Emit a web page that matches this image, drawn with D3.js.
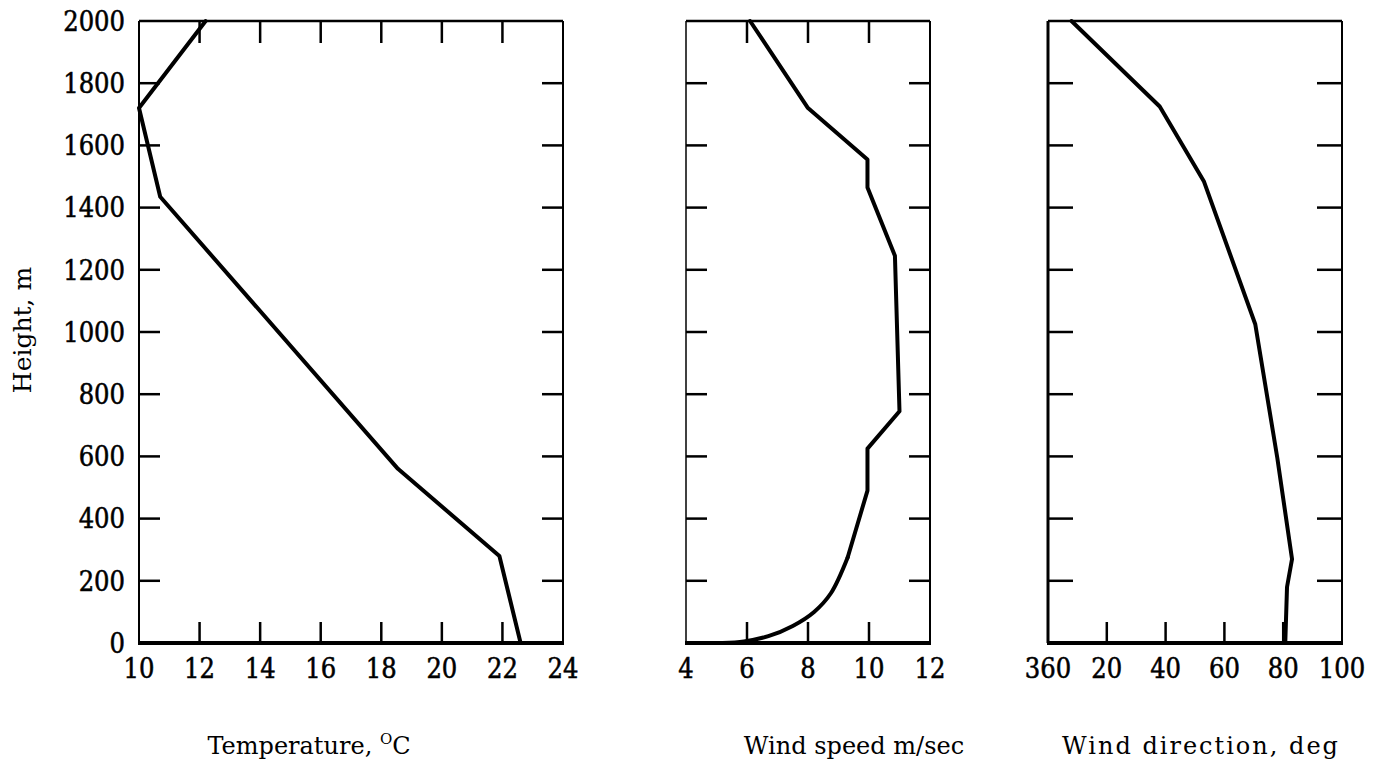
<!DOCTYPE html>
<html>
<head>
<meta charset="utf-8">
<script src="https://cdn.jsdelivr.net/npm/d3@7"></script>
<style>
  html, body { margin: 0; padding: 0; background: #fff; }
  svg { display: block; }
</style>
</head>
<body>
<svg id="chart" width="1375" height="774"></svg>
<script>
// ---------- data ----------
const heightTicks = [0, 200, 400, 600, 800, 1000, 1200, 1400, 1600, 1800, 2000];

const tempHeight = [2000, 1720, 1435, 560, 280, 0];
const tempValue  = [12.2, 10.0, 10.7, 18.55, 21.9, 22.6];
const tempTicks  = [10, 12, 14, 16, 18, 20, 22, 24];

// upper (straight segments) and lower (smooth curve) parts of the wind-speed profile
const speedHeightUpper = [2000, 1720, 1555, 1465, 1245, 745, 625, 490, 275];
const speedValueUpper  = [6.1, 8.0, 9.95, 9.95, 10.85, 11.0, 9.95, 9.95, 9.3];
const speedHeightLower = [275, 160, 100, 55, 22, 5, 0];
const speedValueLower  = [9.3, 8.75, 8.2, 7.5, 6.7, 5.9, 5.2];
const speedTicks  = [4, 6, 8, 10, 12];

const dirHeight = [2000, 1725, 1485, 1025, 595, 270, 180, 0];
const dirValue  = [8, 38, 53, 70.5, 78, 83, 81.3, 80.7];
const dirTicks  = [0, 20, 40, 60, 80, 100];
const dirTickLabels = ["360", "20", "40", "60", "80", "100"];

const titles = ["Temperature, ", "Wind speed m/sec", "Wind direction, deg"];

// ---------- layout ----------
const svg = d3.select("#chart");
const plotTop = 21, plotBottom = 643;
const y = d3.scaleLinear().domain([0, 2000]).range([plotBottom, plotTop]);
const tickFont = "'DejaVu Serif Condensed', 'DejaVu Serif', serif";
const titleFont = "'DejaVu Serif', serif";

const panels = [
  { x0: 139, x1: 563, domain: [10, 24], ticks: tempTicks, labels: tempTicks.map(String),
    lines: [[tempHeight, tempValue, d3.curveLinear]], topTicks: true, tl: 21, leftW: 2, title: titles[0], tx: 309, ls: 0 },
  { x0: 686, x1: 930, domain: [4, 12], ticks: speedTicks, labels: speedTicks.map(String),
    lines: [[speedHeightUpper, speedValueUpper, d3.curveLinear], [speedHeightLower, speedValueLower, d3.curveCatmullRom]],
    topTicks: true, tl: 21, leftW: 1.5, title: titles[1], tx: 854, ls: 0 },
  { x0: 1048, x1: 1342, domain: [0, 100], ticks: dirTicks, labels: dirTickLabels,
    lines: [[dirHeight, dirValue, d3.curveLinear]], topTicks: false, tl: 25, leftW: 3, title: titles[2], tx: 1201, ls: 2 }
];

panels.forEach((p, i) => {
  const x = d3.scaleLinear().domain(p.domain).range([p.x0, p.x1]);
  const g = svg.append("g");
  const inner = p.ticks.slice(1, -1);
  const innerH = heightTicks.slice(1, -1);

  // frame
  g.append("line").attr("x1", x(p.domain[0])).attr("x2", x(p.domain[1]))
    .attr("y1", y(2000)).attr("y2", y(2000)).attr("stroke", "#000").attr("stroke-width", 2.5);
  g.append("line").attr("x1", x(p.domain[0]) - 1).attr("x2", x(p.domain[1]) + 1)
    .attr("y1", y(0)).attr("y2", y(0)).attr("stroke", "#000").attr("stroke-width", 4);
  g.append("line").attr("x1", x(p.domain[0])).attr("x2", x(p.domain[0]))
    .attr("y1", y(2000)).attr("y2", y(0)).attr("stroke", "#000").attr("stroke-width", p.leftW);
  g.append("line").attr("x1", x(p.domain[1])).attr("x2", x(p.domain[1]))
    .attr("y1", y(2000)).attr("y2", y(0)).attr("stroke", "#000").attr("stroke-width", 2);

  // bottom ticks (inward)
  g.selectAll(".bt").data(inner).enter().append("line")
    .attr("x1", d => x(d)).attr("x2", d => x(d))
    .attr("y1", y(0)).attr("y2", y(0) - 21)
    .attr("stroke", "#000").attr("stroke-width", 2.5);
  // top ticks
  if (p.topTicks) {
    g.selectAll(".tt").data(inner).enter().append("line")
      .attr("x1", d => x(d)).attr("x2", d => x(d))
      .attr("y1", y(2000)).attr("y2", y(2000) + 22)
      .attr("stroke", "#000").attr("stroke-width", 2.5);
  }
  // left / right ticks
  g.selectAll(".lt").data(innerH).enter().append("line")
    .attr("x1", x(p.domain[0])).attr("x2", x(p.domain[0]) + p.tl)
    .attr("y1", d => y(d)).attr("y2", d => y(d))
    .attr("stroke", "#000").attr("stroke-width", 2.5);
  g.selectAll(".rt").data(innerH).enter().append("line")
    .attr("x1", x(p.domain[1])).attr("x2", x(p.domain[1]) - p.tl)
    .attr("y1", d => y(d)).attr("y2", d => y(d))
    .attr("stroke", "#000").attr("stroke-width", 2.5);

  // x tick labels
  g.selectAll(".xl").data(p.ticks).enter().append("text")
    .attr("font-family", tickFont).attr("font-size", 27)
    .attr("fill", "#000").attr("stroke", "#000").attr("stroke-width", 0.5)
    .attr("x", d => x(d)).attr("y", 678)
    .attr("text-anchor", "middle")
    .text((d, j) => p.labels[j]);

  // data lines
  p.lines.forEach(([hv, vv, curve]) => {
    const pts = hv.map((h, j) => [vv[j], h]);
    g.append("path").datum(pts)
      .attr("d", d3.line().curve(curve).x(d => x(d[0])).y(d => y(d[1])))
      .attr("fill", "none").attr("stroke", "#000").attr("stroke-width", 4)
      .attr("stroke-linejoin", "round").attr("stroke-linecap", "round");
  });

  // title
  const t = g.append("text")
    .attr("font-family", titleFont).attr("font-size", 24).attr("fill", "#000")
    .attr("letter-spacing", p.ls)
    .attr("x", p.tx).attr("y", 754).attr("text-anchor", "middle");
  t.append("tspan").text(p.title);
  if (i === 0) {
    t.append("tspan").attr("font-size", "15px").attr("dy", -10).text("O");
    t.append("tspan").attr("dy", 10).text("C");
  }
});

// y tick labels
svg.selectAll(".yl").data(heightTicks).enter().append("text")
  .attr("font-family", tickFont).attr("font-size", 27)
  .attr("fill", "#000").attr("stroke", "#000").attr("stroke-width", 0.5)
  .attr("x", 125).attr("y", d => y(d)).attr("dy", "0.36em")
  .attr("text-anchor", "end")
  .text(d => d);

// y axis title
svg.append("text")
  .attr("font-family", titleFont).attr("font-size", 25).attr("fill", "#000")
  .attr("transform", "translate(31,330) rotate(-90)")
  .attr("text-anchor", "middle")
  .text("Height, m");
</script>
</body>
</html>
